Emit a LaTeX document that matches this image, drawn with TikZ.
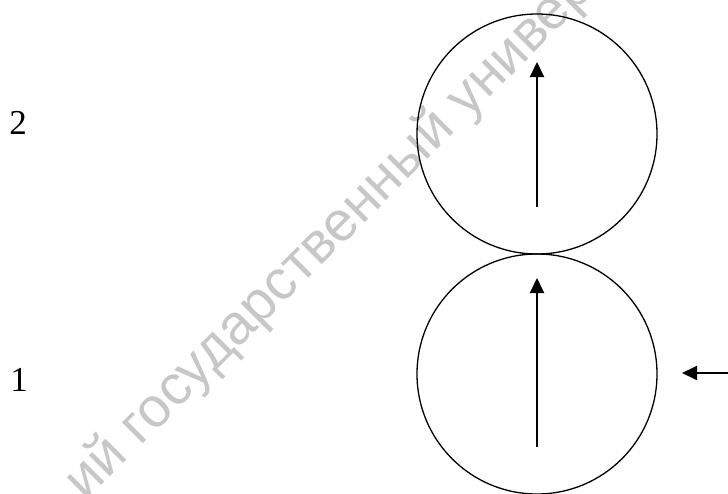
\documentclass[tikz,border=0pt]{standalone}
\usepackage{fontspec}
\setmainfont{Liberation Serif}
\newfontfamily\wmfont{Liberation Sans}
\usepackage{xcolor}
\usetikzlibrary{arrows.meta}
\tikzset{
  ring/.style={circle, draw, line width=1.3pt, minimum size=240pt, inner sep=0pt},
  vec/.style={line width=2pt, -{Triangle[length=15pt, width=14pt]}},
  num/.style={inner sep=0pt, font=\fontsize{35}{40}\selectfont},
}

\begin{document}
\begin{tikzpicture}[x=1pt, y=-1pt]
            \useasboundingbox (0, 0) rectangle (728, 493);
            \clip (0, 0) rectangle (728, 493);
            \node[rotate=45, text=black!22, inner sep=0pt, font=\wmfont\fontsize{56}{60}\selectfont] (mark) at (330, 236) {ий государственный универ};

            \node[ring] (c2) at (537, 134) {};
            \node[ring] (c1) at (537, 374) {};
            \node[num] (n2) at (18, 122.5) {2};
            \node[num] (n1) at (19, 380) {1};

            \coordinate (a2s) at (537, 207);
            \coordinate (a2e) at (537, 62);
            \coordinate (a1s) at (537, 447);
            \coordinate (a1e) at (537, 278);
            \coordinate (fs) at (730, 373);
            \coordinate (fe) at (682, 373);

            \draw[vec] (a2s) -- (a2e);
            \draw[vec] (a1s) -- (a1e);
            \draw[vec] (fs) -- (fe);
        \end{tikzpicture}
\end{document}
